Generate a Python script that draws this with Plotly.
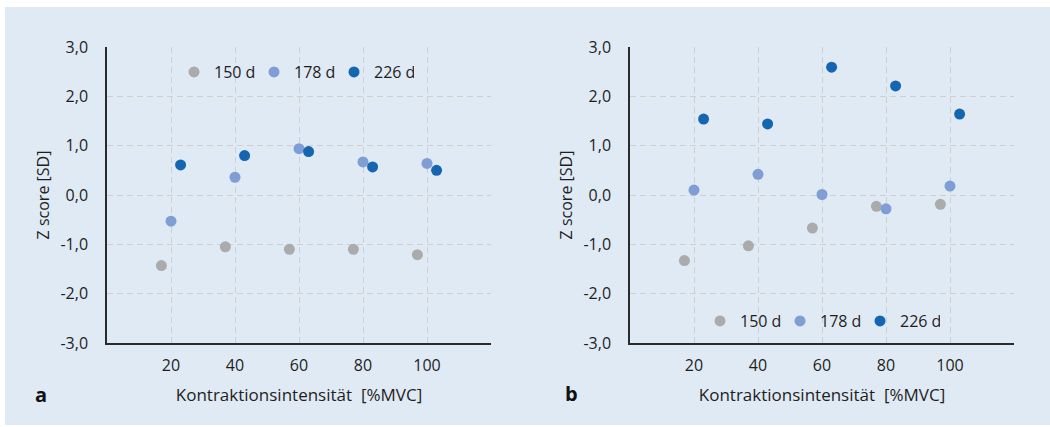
import plotly.graph_objects as go

# Panel a
a_x150 = [17, 37, 57, 77, 97]
a_y150 = [-1.43, -1.05, -1.10, -1.10, -1.21]
a_x178 = [20, 40, 60, 80, 100]
a_y178 = [-0.53, 0.36, 0.94, 0.67, 0.64]
a_x226 = [23, 43, 63, 83, 103]
a_y226 = [0.61, 0.80, 0.88, 0.57, 0.50]

# Panel b
b_x150 = [17, 37, 57, 77, 97]
b_y150 = [-1.33, -1.03, -0.67, -0.23, -0.19]
b_x178 = [20, 40, 60, 80, 100]
b_y178 = [0.10, 0.42, 0.01, -0.28, 0.18]
b_x226 = [23, 43, 63, 83, 103]
b_y226 = [1.54, 1.44, 2.59, 2.21, 1.64]

series_names = ["150 d", "178 d", "226 d"]
colors = ["#ABABAB", "#7F9ED6", "#1565B0"]

x_tickvals = [0, 20, 40, 60, 80, 100, 120]
x_ticktext = ["", "20", "40", "60", "80", "100", ""]
y_tickvals = [-3, -2, -1, 0, 1, 2, 3]
y_ticktext = ["-3,0", "-2,0", "-1,0", "0,0", "1,0", "2,0", "3,0"]

W, H = 1050, 427
FONT = "Open Sans"
fig = go.Figure()

panel_a = [(a_x150, a_y150), (a_x178, a_y178), (a_x226, a_y226)]
panel_b = [(b_x150, b_y150), (b_x178, b_y178), (b_x226, b_y226)]

for i, (xs, ys) in enumerate(panel_a):
    fig.add_trace(go.Scatter(x=xs, y=ys, mode="markers", name=series_names[i],
                             marker=dict(size=11, color=colors[i]),
                             xaxis="x", yaxis="y", legend="legend"))
for i, (xs, ys) in enumerate(panel_b):
    fig.add_trace(go.Scatter(x=xs, y=ys, mode="markers", name=series_names[i],
                             marker=dict(size=11, color=colors[i]),
                             xaxis="x2", yaxis="y2", legend="legend2"))

axis_common = dict(showline=True, linecolor="#2b2b2b", linewidth=1.5,
                   showgrid=True, gridcolor="#CFCFCF", gridwidth=1.3, griddash="6px,4px",
                   zeroline=False, ticks="", tickfont=dict(size=16, color="#1e1e1e"),
                   title_font=dict(size=16, color="#1e1e1e"), automargin=False)

xa = dict(axis_common, range=[0, 120], tickmode="array", tickvals=x_tickvals, ticktext=x_ticktext,
          ticklabelstandoff=7,
          title=dict(text="Kontraktionsintensität\u00a0 [%MVC]", font=dict(size=17), standoff=14))
ya = dict(axis_common, range=[-3, 3], tickmode="array", tickvals=y_tickvals, ticktext=y_ticktext,
          ticklabelstandoff=14, title=dict(text="Z score [SD]", standoff=7))

ydom = [84 / H, 380 / H]
fig.update_layout(
    width=W, height=H,
    margin=dict(l=0, r=0, t=0, b=0, autoexpand=False),
    paper_bgcolor="white", plot_bgcolor="rgba(0,0,0,0)",
    font=dict(family=FONT, size=16, color="#1e1e1e"),
    xaxis=dict(xa, domain=[107 / W, 491 / W], anchor="y"),
    yaxis=dict(ya, domain=ydom, anchor="x"),
    xaxis2=dict(xa, domain=[630 / W, 1014 / W], anchor="y2"),
    yaxis2=dict(ya, domain=ydom, anchor="x2"),
    legend=dict(orientation="h", x=174 / W, y=(H - 72) / H, xanchor="left", yanchor="middle",
                bgcolor="rgba(0,0,0,0)", font=dict(size=16), entrywidth=35, itemwidth=30),
    legend2=dict(orientation="h", x=700 / W, y=(H - 321) / H, xanchor="left", yanchor="middle",
                 bgcolor="rgba(0,0,0,0)", font=dict(size=16), entrywidth=35, itemwidth=30),
    shapes=[dict(type="rect", xref="paper", yref="paper", x0=5 / W, x1=1.01, y0=2 / H, y1=1 - 7 / H,
                 fillcolor="#E0EAF4", line=dict(width=0), layer="below")],
    annotations=[
        dict(text="<b>a</b>", x=41 / W, y=(H - 394) / H, xref="paper", yref="paper",
             xanchor="center", yanchor="middle",
             showarrow=False, font=dict(size=20, color="#111")),
        dict(text="<b>b</b>", x=571 / W, y=(H - 393) / H, xref="paper", yref="paper",
             xanchor="center", yanchor="middle",
             showarrow=False, font=dict(size=20, color="#111")),
    ],
)

fig.write_html("out.html")
